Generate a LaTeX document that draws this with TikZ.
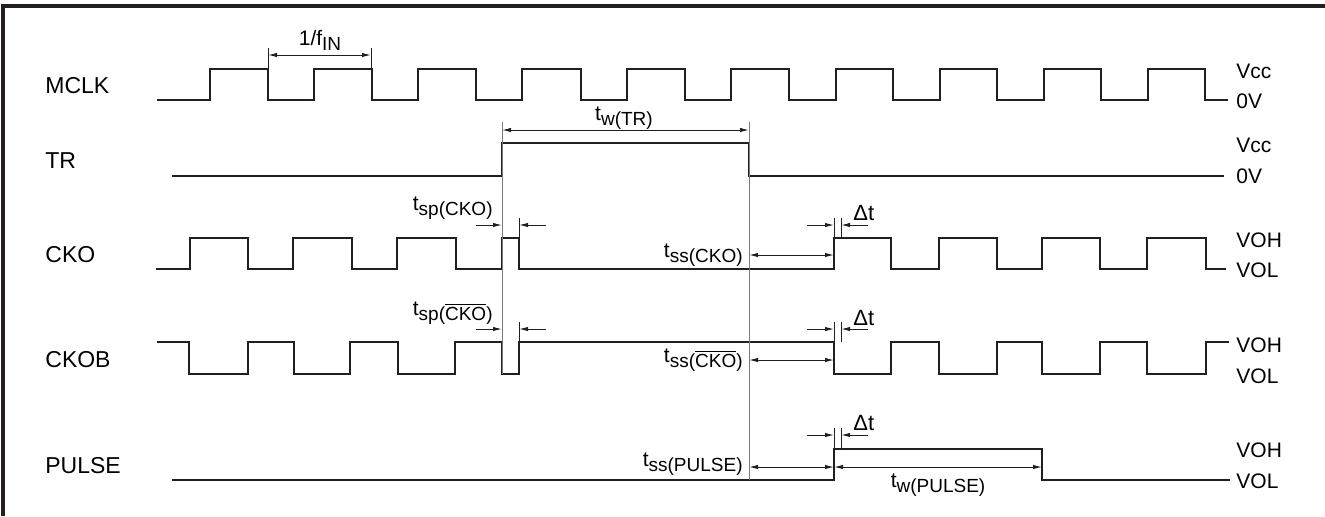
\documentclass[tikz,border=0pt]{standalone}
\usepackage{fontspec}
\setmainfont{Liberation Sans}
\usetikzlibrary{arrows.meta}
\definecolor{tdInk}{HTML}{231F20}
\definecolor{tdGray}{HTML}{7A7A7A}
\newcommand{\tsub}[2]{#1\raisebox{-2.5pt}{\fontsize{9.5}{10}\selectfont #2}}
\newcommand{\ckobar}{$\overline{\mbox{CKO}}$}
\tikzset{
  % waveforms
  td/sig/.style={draw=tdInk, line width=1.1pt},
  % dimension arrows, both ends
  td/dim/.style={draw=tdInk, line width=0.5pt,
    {Latex[length=4.5pt,width=2.2pt]}-{Latex[length=4.5pt,width=2.2pt]}},
  % one-sided arrow pointing at an edge
  td/into/.style={draw=tdInk, line width=0.5pt, -{Latex[length=4.5pt,width=2.2pt]}},
  td/ext/.style={draw=tdGray, line width=0.5pt},
  td/tick/.style={draw=tdInk, line width=0.5pt},
  td/name/.style={font=\fontsize{11.5}{12}\selectfont, anchor=base west, inner sep=0pt},
  td/lvl/.style={font=\fontsize{10.5}{12}\selectfont, anchor=base west, inner sep=0pt},
  td/time/.style={font=\fontsize{10.5}{12}\selectfont, inner sep=0pt},
}
\begin{document}
\begin{tikzpicture}[x=0.5pt,y=-0.5pt]
  \useasboundingbox (0,0) rectangle (1325,516);
  \draw[draw=tdInk, line width=2pt] (1325,6) -- (2.5,6) -- (2.5,516);
  % signal names
  \node[td/name] (mclk)  at (45,93)  {MCLK};
  \node[td/name] (tr)    at (45,168) {TR};
  \node[td/name] (cko)   at (45,262) {CKO};
  \node[td/name] (ckob)  at (45,367) {CKOB};
  \node[td/name] (pulse) at (45,473) {PULSE};
  % levels
  \node[td/lvl] (vccA) at (1236,78)  {Vcc};
  \node[td/lvl] (gndA) at (1236,108) {0V};
  \node[td/lvl] (vccB) at (1236,152) {Vcc};
  \node[td/lvl] (gndB) at (1236,183) {0V};
  \node[td/lvl] (vohA) at (1236,247) {VOH};
  \node[td/lvl] (volA) at (1236,277) {VOL};
  \node[td/lvl] (vohB) at (1236,352) {VOH};
  \node[td/lvl] (volB) at (1236,383) {VOL};
  \node[td/lvl] (vohC) at (1236,457) {VOH};
  \node[td/lvl] (volC) at (1236,488) {VOL};
  % waveforms
  \draw[td/sig] (157,100)
    \foreach \r/\f in {210/268,314/372,418/476,522/581,627/685,731/789,836/893,940/997,1044/1101,1148/1205}
      { -- (\r,100) -- (\r,69) -- (\f,69) -- (\f,100) } -- (1228,100);
  \draw[td/sig] (172,176) -- (502,176) -- (502,143) -- (749,143) -- (749,176) -- (1224,176);
  \draw[td/sig] (156,269)
    \foreach \r/\f in {190/248,293/352,397/456,502/519}
      { -- (\r,269) -- (\r,238) -- (\f,238) -- (\f,269) }
    \foreach \r/\f in {834/891,939/997,1042/1100,1147/1206}
      { -- (\r,269) -- (\r,238) -- (\f,238) -- (\f,269) } -- (1226,269);
  \draw[td/sig] (157,342)
    \foreach \f/\r in {189/248,294/350,398/455,502/519}
      { -- (\f,342) -- (\f,374) -- (\r,374) -- (\r,342) }
    \foreach \f/\r in {834/891,939/997,1042/1100,1147/1206}
      { -- (\f,342) -- (\f,374) -- (\r,374) -- (\r,342) } -- (1229,342);
  \draw[td/sig] (172,480) -- (834,480) -- (834,449) -- (1042,449) -- (1042,480) -- (1230,480);
  % extension lines
  \draw[td/ext] (502,122) -- (502,374);
  \draw[td/ext] (749,122) -- (749,480);
  % 1/fIN
  \draw[td/tick] (268,48) -- (268,69) (371,48) -- (371,69);
  \draw[td/dim] (268,55) -- (371,55);
  \node[td/time, anchor=base] (fin) at (320,45) {1/\tsub{f}{IN}};
  % tw(TR)
  \draw[td/dim] (502,130) -- (749,130);
  \node[td/time, anchor=base] (twtr) at (624,120) {\tsub{t}{w(TR)}};
  % tsp
  \foreach \y/\h in {225/238,329/342}{
    \draw[td/tick] (519,\y-7) -- (519,\h);
    \draw[td/into] (476,\y) -- (502,\y);
    \draw[td/into] (546,\y) -- (519,\y);
  }
  \node[td/time, anchor=base east] (tspA) at (493,210) {\tsub{t}{sp(CKO)}};
  \node[td/time, anchor=base east] (tspB) at (493,315) {\tsub{t}{sp(\ckobar)}};
  % tss
  \draw[td/dim] (749,255) -- (834,255);
  \draw[td/dim] (749,360) -- (834,360);
  \draw[td/dim] (749,467) -- (834,467);
  \node[td/time, anchor=base east] (tssA) at (743,257) {\tsub{t}{ss(CKO)}};
  \node[td/time, anchor=base east] (tssB) at (743,362) {\tsub{t}{ss(\ckobar)}};
  \node[td/time, anchor=base east] (tssC) at (743,466) {\tsub{t}{ss(PULSE)}};
  % tw(PULSE)
  \draw[td/dim] (834,467) -- (1042,467);
  \node[td/time, anchor=base] (twp) at (938,487) {\tsub{t}{w(PULSE)}};
  % delta t
  \foreach \y/\h/\b/\n in {225/238/220/dA,329/342/325/dB,435/449/430/dC}{
    \draw[td/tick] (834,\y-7) -- (834,\h) (841,\y-7) -- (841,\h);
    \draw[td/into] (807,\y) -- (834,\y);
    \draw[td/into] (868,\y) -- (841,\y);
    \node[td/time, font=\fontsize{11}{12}\selectfont, anchor=base west] (\n) at (853,\b) {Δt};
  }
\end{tikzpicture}
\end{document}
